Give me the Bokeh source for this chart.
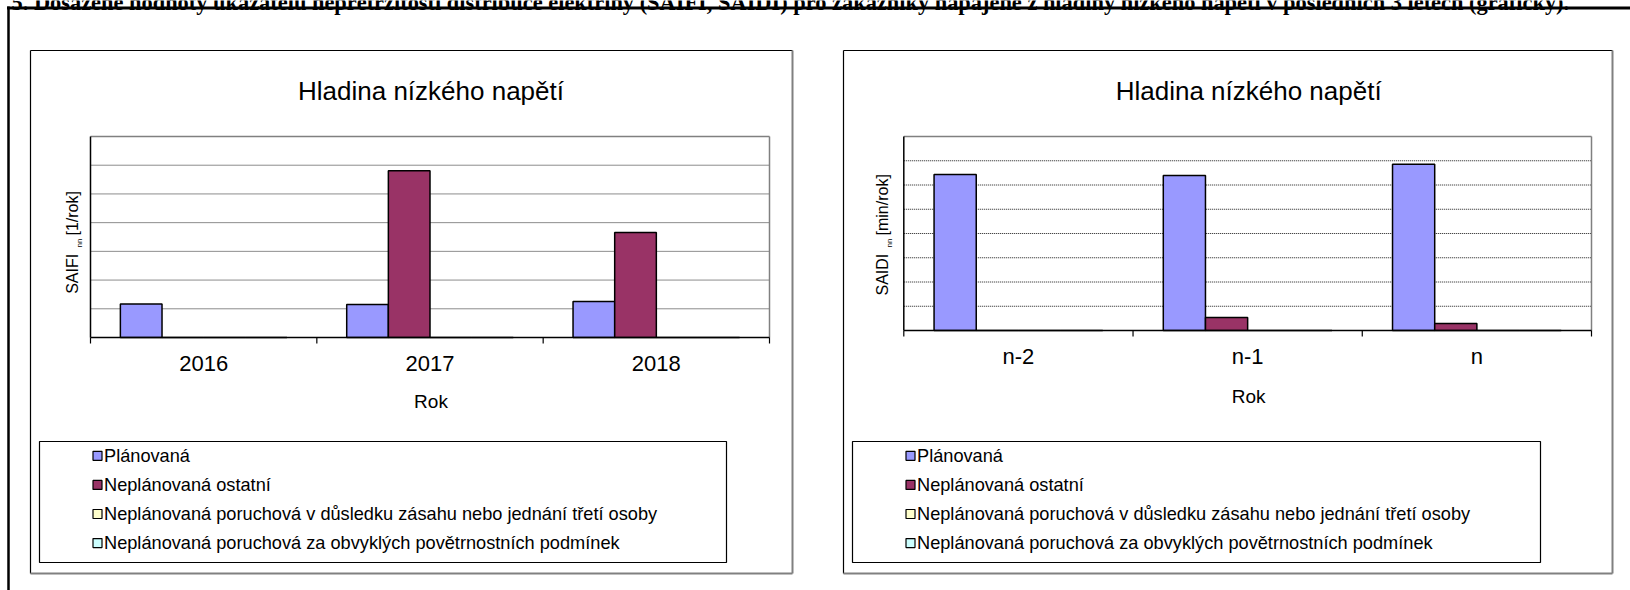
import numpy as np
from bokeh.plotting import figure
from bokeh.models import Range1d, ColumnDataSource
from bokeh.transform import dodge
from bokeh.core.properties import value
from bokeh.embed import file_html
from bokeh.resources import INLINE

# ---------------- data ----------------
page_title = ("5. Dosažené hodnoty ukazatelů nepřetržitosti distribuce elektřiny (SAIFI, SAIDI) "
              "pro zákazníky napájené z hladiny nízkého napětí v posledních 3 letech (grafický).")
chart_title = "Hladina nízkého napětí"
x_title = "Rok"
series = ["Plánovaná",
          "Neplánovaná ostatní",
          "Neplánovaná poruchová v důsledku zásahu nebo jednání třetí osoby",
          "Neplánovaná poruchová za obvyklých povětrnostních podmínek"]
series_colors = ["#9999FF", "#993366", "#FFFFCC", "#CCFFFF"]

saifi_years = ["2016", "2017", "2018"]
saifi_planned = [1.17, 1.15, 1.25]
saifi_unplanned_other = [0.0, 5.81, 3.66]
saifi_third_party = [0.0, 0.0, 0.0]
saifi_weather = [0.0, 0.0, 0.0]
saifi_axis_max = 7

saidi_years = ["n-2", "n-1", "n"]
saidi_planned = [6.43, 6.39, 6.86]
saidi_unplanned_other = [0.0, 0.54, 0.29]
saidi_third_party = [0.0, 0.0, 0.0]
saidi_weather = [0.0, 0.0, 0.0]
saidi_axis_max = 8

# ---------------- page ----------------
W, H = 1630, 590
FONT = value("Liberation Sans")

p = figure(width=W, height=H, x_range=Range1d(0, W), y_range=Range1d(H, 0),
           output_backend="svg", toolbar_location=None, min_border=0,
           x_axis_location=None, y_axis_location=None, margin=(0, 0, 0, 0))
p.grid.visible = False
p.outline_line_color = None
p.background_fill_color = "white"
p.border_fill_color = "white"

# page title (cut by the top of the window) and rules
p.text(x=[11], y=[2], text=[page_title], text_font=value("Liberation Serif"),
       text_font_style="bold", text_font_size="22.4px", text_baseline="alphabetic",
       text_align="left", text_color="black")
p.segment(x0=[6.5], y0=[7.5], x1=[W], y1=[7.5], line_color="black", line_width=3)
p.segment(x0=[8], y0=[6], x1=[8], y1=[H], line_color="black", line_width=2.5)

charts = [
    dict(name="L", cats=saifi_years, nmax=saifi_axis_max,
         vals=[saifi_planned, saifi_unplanned_other, saifi_third_party, saifi_weather],
         box=(30, 50, 792, 573), area=(90, 136, 769, 337),
         title_y=90, tick_dy=26, rok_y=401,
         ylab=("SAIFI", "nn", " [1/rok]"), ylab_x=71.7, ylab_sub_x=79.0,
         ylab_y=(293.3, 247.0, 235.0),
         legend_box=(39, 441, 726, 562), legend_x=97, legend_y0=455.3),
    dict(name="R", cats=saidi_years, nmax=saidi_axis_max,
         vals=[saidi_planned, saidi_unplanned_other, saidi_third_party, saidi_weather],
         box=(843, 50, 1612, 573), area=(903.3, 136, 1591, 330),
         title_y=90, tick_dy=26, rok_y=396,
         ylab=("SAIDI", "nn", " [min/rok]"), ylab_x=881.7, ylab_sub_x=889.0,
         ylab_y=(295.0, 247.0, 235.0),
         legend_box=(852, 441, 1540, 562), legend_x=910, legend_y0=455.3),
]

bar_w = 0.184
row_pitch = 29.1

for c in charts:
    n = c["name"]
    x0, y0, x1, y1 = c["area"]
    ncat = len(c["cats"])
    ux = (x1 - x0) / ncat
    uy = (y1 - y0) / c["nmax"]
    p.extra_x_ranges[n] = Range1d(-x0 / ux, ncat + (W - x1) / ux)
    p.extra_y_ranges[n] = Range1d(-(H - y1) / uy, c["nmax"] + y0 / uy)
    kw = dict(x_range_name=n, y_range_name=n)

    # chart frame
    bx0, by0, bx1, by1 = c["box"]
    p.segment(x0=[bx0, bx0], y0=[by0, by0], x1=[bx1, bx0], y1=[by0, by1],
              line_color="black", line_width=1.2)
    p.segment(x0=[bx1, bx0], y0=[by0, by1], x1=[bx1, bx1], y1=[by1, by1],
              line_color="#808080", line_width=2)

    # grid lines and plot-area border
    levels = list(range(1, c["nmax"]))
    p.segment(x0=[0] * len(levels), x1=[ncat] * len(levels), y0=levels, y1=levels,
              line_color="#1a1a1a", line_width=1, line_dash="1 1", **kw)
    p.segment(x0=[0, ncat], x1=[ncat, ncat], y0=[c["nmax"], 0], y1=[c["nmax"], c["nmax"]],
              line_color="#808080", line_width=1.5, **kw)

    # bars
    xi = [i + 0.5 for i in range(ncat)]
    src = ColumnDataSource(dict(xi=xi, **{f"s{k}": v for k, v in enumerate(c["vals"])}))
    for k in range(len(series)):
        p.vbar(x=dodge("xi", (k - 1.5) * bar_w), top=f"s{k}", bottom=0, width=bar_w,
               source=src, fill_color=series_colors[k], line_color="black",
               line_width=1.5, **kw)

    # axes
    tick_len = 6 / uy
    p.segment(x0=[0, 0], y0=[0, 0], x1=[ncat, 0], y1=[0, c["nmax"]],
              line_color="black", line_width=1.5, **kw)
    p.segment(x0=list(range(ncat + 1)), x1=list(range(ncat + 1)),
              y0=[0] * (ncat + 1), y1=[-tick_len] * (ncat + 1),
              line_color="black", line_width=1.2, **kw)
    p.text(x=xi, y=[0] * ncat, text=c["cats"], y_offset=c["tick_dy"],
           text_font=FONT, text_font_size="22px", text_align="center",
           text_baseline="middle", text_color="black", **kw)

    # titles
    p.text(x=[(x0 + x1) / 2 + 1], y=[c["title_y"]], text=[chart_title], text_font=FONT,
           text_font_size="26px", text_align="center", text_baseline="middle",
           text_color="black")
    p.text(x=[(x0 + x1) / 2 + 1], y=[c["rok_y"]], text=[x_title], text_font=FONT,
           text_font_size="19px", text_align="center", text_baseline="middle",
           text_color="black")

    # rotated y-axis label with subscript
    main, sub, rest = c["ylab"]
    ya, yb, yc = c["ylab_y"]
    p.text(x=[c["ylab_x"]], y=[ya], text=[main], angle=np.pi / 2, text_font=FONT,
           text_font_size="16px", text_align="left", text_baseline="middle",
           text_color="black")
    p.text(x=[c["ylab_sub_x"]], y=[yb], text=[sub], angle=np.pi / 2, text_font=FONT,
           text_font_size="8px", text_align="left", text_baseline="middle",
           text_color="black")
    p.text(x=[c["ylab_x"]], y=[yc], text=[rest], angle=np.pi / 2, text_font=FONT,
           text_font_size="16px", text_align="left", text_baseline="middle",
           text_color="black")

    # legend
    lx0, ly0, lx1, ly1 = c["legend_box"]
    p.rect(x=[(lx0 + lx1) / 2], y=[(ly0 + ly1) / 2], width=[lx1 - lx0], height=[ly1 - ly0],
           fill_color=None, line_color="black", line_width=1.2)
    ys = [c["legend_y0"] + i * row_pitch for i in range(len(series))]
    p.rect(x=[c["legend_x"]] * len(series), y=ys, width=[9] * len(series),
           height=[9] * len(series), fill_color=series_colors, line_color="black",
           line_width=1.2)
    p.text(x=[c["legend_x"] + 6.5] * len(series), y=ys, text=series, text_font=FONT,
           text_font_size="18.2px", text_align="left", text_baseline="middle",
           text_color="black")

open("out.html", "w").write(file_html(p, INLINE))
